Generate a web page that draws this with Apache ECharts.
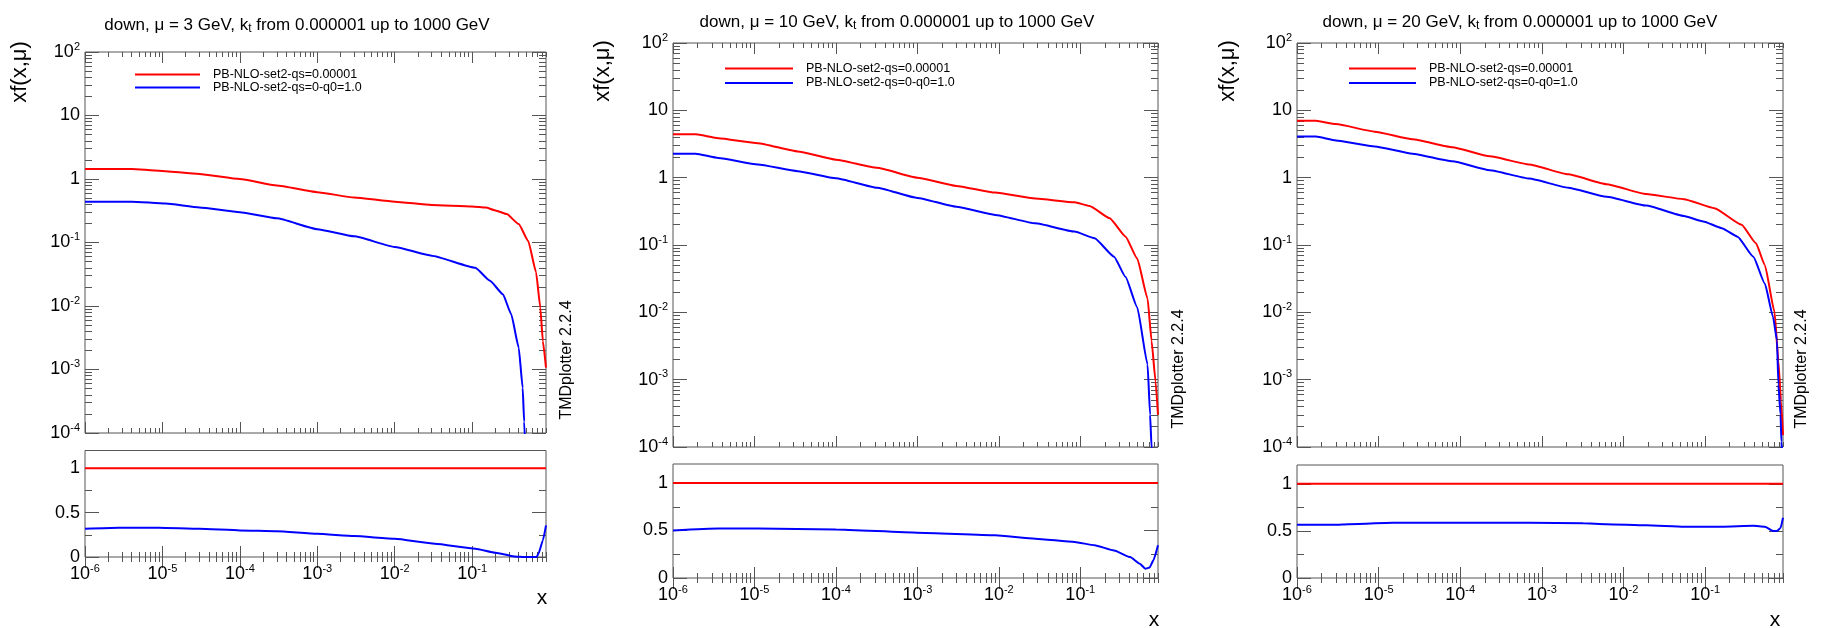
<!DOCTYPE html>
<html>
<head>
<meta charset="utf-8">
<script src="https://cdn.jsdelivr.net/npm/echarts@6/dist/echarts.min.js"></script>
<style>
  html, body { margin: 0; padding: 0; background: #fff; }
  #chart { width: 1824px; height: 628px; }
</style>
</head>
<body>
<div id="chart"></div>
<script>
// series names (same in every panel)
const RED_NAME = 'PB-NLO-set2-qs=0.00001';
const BLUE_NAME = 'PB-NLO-set2-qs=0-q0=1.0';

// scale mu of each panel (GeV)
const muValues = [3, 10, 20];

// tick labels
const xDecades = [1e-6, 1e-5, 1e-4, 1e-3, 1e-2, 1e-1];
const yDecades = [1.0000001e-4, 1e-3, 1e-2, 1e-1, 1, 10, 99.99999];
const ratioLabels = [0, 0.5, 1];
const ratioMinor = [0.25, 0.75];

// ---- panel 1 : mu = 3 GeV ----
const x1Red = [1e-6, 4e-6, 9e-6, 3e-5, 1e-4, 3e-4, 1e-3, 3e-3, 1e-2, 3e-2, 0.1, 0.15, 0.2, 0.28, 0.4, 0.53, 0.67, 0.76, 0.82, 0.9];
const y1Red = [1.44, 1.44, 1.35, 1.20, 1.00, 0.79, 0.62, 0.51, 0.44, 0.39, 0.37, 0.355, 0.32, 0.28, 0.195, 0.106, 0.034, 0.0094, 0.0028, 0.00107];
const x1Blue = [1e-6, 4e-6, 1.1e-5, 3e-5, 1e-4, 3e-4, 1e-3, 3e-3, 1e-2, 3e-2, 0.11, 0.17, 0.25, 0.32, 0.4, 0.45, 0.47, 0.49];
const y1Blue = [0.44, 0.44, 0.41, 0.357, 0.30, 0.24, 0.162, 0.125, 0.085, 0.062, 0.040, 0.025, 0.0153, 0.0074, 0.0022, 5.1e-4, 1.5e-4, 5e-5];
const x1Ratio = [1e-6, 2.7e-6, 9e-6, 3e-5, 1e-4, 3e-4, 1e-3, 3e-3, 1e-2, 3.3e-2, 0.11, 0.2, 0.35, 0.5, 0.68, 0.72, 0.82, 0.9];
const r1Blue = [0.318, 0.33, 0.33, 0.318, 0.30, 0.29, 0.262, 0.236, 0.206, 0.15, 0.094, 0.049, 0.007, 0, 0, 0.037, 0.187, 0.356];

// ---- panel 2 : mu = 10 GeV ----
const x2Red = [1e-6, 1.9e-6, 3.6e-6, 1.1e-5, 3.4e-5, 1e-4, 3.2e-4, 1e-3, 3e-3, 9e-3, 2.8e-2, 8.5e-2, 0.13, 0.23, 0.36, 0.5, 0.67, 0.75, 0.84, 0.9];
const y2Red = [4.4, 4.4, 3.85, 3.25, 2.45, 1.85, 1.40, 1.0, 0.755, 0.60, 0.49, 0.43, 0.38, 0.25, 0.133, 0.063, 0.016, 0.0038, 9.4e-4, 3e-4];
const x2Blue = [1e-6, 1.9e-6, 3.6e-6, 1.1e-5, 3.4e-5, 1e-4, 3.2e-4, 1e-3, 3e-3, 9e-3, 2.8e-2, 8.5e-2, 0.15, 0.26, 0.36, 0.5, 0.67, 0.72, 0.75, 0.78];
const y2Blue = [2.27, 2.27, 1.96, 1.57, 1.25, 0.98, 0.71, 0.5, 0.37, 0.28, 0.21, 0.158, 0.126, 0.067, 0.0335, 0.0119, 0.00168, 3e-4, 1e-4, 8e-5];
const x2Ratio = [1e-6, 3.6e-6, 1.1e-5, 1e-4, 1e-3, 9e-3, 2.8e-2, 8.5e-2, 0.15, 0.26, 0.41, 0.54, 0.63, 0.71, 0.79, 0.9];
const r2Blue = [0.50, 0.52, 0.52, 0.51, 0.477, 0.45, 0.414, 0.38, 0.344, 0.29, 0.22, 0.15, 0.098, 0.11, 0.186, 0.344];

// ---- panel 3 : mu = 20 GeV ----
const x3Red = [1e-6, 1.7e-6, 3e-6, 9e-6, 2.6e-5, 8e-5, 2.3e-4, 7e-4, 2.1e-3, 6.2e-3, 1.9e-2, 5.5e-2, 0.13, 0.28, 0.42, 0.54, 0.71, 0.79, 0.85, 0.9];
const y3Red = [6.98, 7.0, 6.24, 4.82, 3.72, 2.84, 2.08, 1.57, 1.12, 0.80, 0.57, 0.48, 0.352, 0.2, 0.106, 0.05, 0.01, 0.0019, 4.9e-4, 1.5e-4];
const x3Blue = [1e-6, 1.7e-6, 3e-6, 9e-6, 2.6e-5, 8e-5, 2.3e-4, 7e-4, 2.1e-3, 6.2e-3, 1.9e-2, 5.5e-2, 9.5e-2, 0.16, 0.25, 0.39, 0.54, 0.68, 0.76, 0.79, 0.84, 0.86, 0.88];
const y3Blue = [4.07, 4.07, 3.56, 2.91, 2.27, 1.75, 1.29, 0.97, 0.71, 0.52, 0.385, 0.27, 0.224, 0.178, 0.133, 0.067, 0.0266, 0.0085, 0.0038, 8.5e-4, 3e-4, 1.2e-4, 8e-5];
const x3Ratio = [1e-6, 3e-6, 4.2e-6, 1.5e-5, 8e-5, 7e-4, 3.2e-3, 6.2e-3, 1.9e-2, 5.5e-2, 0.16, 0.39, 0.54, 0.68, 0.76, 0.84, 0.9];
const r3Blue = [0.565, 0.565, 0.572, 0.586, 0.586, 0.586, 0.582, 0.572, 0.561, 0.544, 0.544, 0.554, 0.544, 0.50, 0.50, 0.53, 0.64];

// reference ratio (red / red)
const xRatioRef = [1e-6, 0.9];
const rRed = [1, 1];

const X_MAX = 0.9;
const FONT = '"Liberation Sans", Arial, Helvetica, sans-serif';
const FRAME = '#555';
const RED = '#ff0000';
const BLUE = '#0000ff';

// layout of the three panels (pixels)
const panels = [
  { left: 85,   width: 461, top: 52, topH: 381, low: 450.5, lowH: 106.5,
    titleX: 297, titleY: 25, yLabX: 20, yLabY: 72, xLabX: 542, xLabY: 598, tmdX: 567, tmdY: 360,
    legX: 130, legY: 63, legW: 65, legGap: 0 },
  { left: 673,  width: 485, top: 43, topH: 404, low: 464, lowH: 114,
    titleX: 897, titleY: 22, yLabX: 603, yLabY: 71, xLabX: 1154, xLabY: 620, tmdX: 1179, tmdY: 369,
    legX: 720, legY: 57, legW: 68, legGap: 1.5 },
  { left: 1297, width: 486, top: 43, topH: 404, low: 465, lowH: 113,
    titleX: 1520, titleY: 22, yLabX: 1228, yLabY: 71, xLabX: 1775, xLabY: 620, tmdX: 1802, tmdY: 369,
    legX: 1344, legY: 57, legW: 67, legGap: 1.5 }
];

const topData = [
  [x1Red, y1Red, x1Blue, y1Blue],
  [x2Red, y2Red, x2Blue, y2Blue],
  [x3Red, y3Red, x3Blue, y3Blue]
];
const ratioData = [
  [x1Ratio, r1Blue],
  [x2Ratio, r2Blue],
  [x3Ratio, r3Blue]
];

function pairs(xs, ys) {
  return xs.map((x, i) => [x, ys[i]]);
}

function minorTicks(lo, hi) {
  let out = [];
  for (let e = lo; e < hi; e++) {
    for (let k = 2; k <= 9; k++) out.push(k * Math.pow(10, e));
  }
  return out;
}

const xMinor = minorTicks(-6, 0);
const yMinor = minorTicks(-4, 2);

const RICH = {
  n: { fontSize: 18, fontFamily: FONT, color: '#000', lineHeight: 22 },
  e: { fontSize: 11, fontFamily: FONT, color: '#000', lineHeight: 12, verticalAlign: 'top' }
};

function powLabel(v, isY) {
  let e = Math.round(Math.log10(v));
  if (isY && e === 0) return '{n|1}';
  if (isY && e === 1) return '{n|10}';
  return '{n|10}{e|' + e + '}';
}

let grids = [], xAxes = [], yAxes = [], series = [], legends = [], texts = [];

function tickStyle(len, vals) {
  return { show: true, inside: true, length: len, customValues: vals, lineStyle: { color: FRAME, width: 1 } };
}

function addX(g, withLabels) {
  let base = { type: 'log', logBase: 10, gridIndex: g, min: 1e-6, max: X_MAX,
    axisLine: { show: false }, splitLine: { show: false } };
  xAxes.push(Object.assign({}, base, { position: 'bottom', axisTick: tickStyle(11, xDecades),
    axisLabel: withLabels ? { show: true, customValues: xDecades, margin: 6, rich: RICH,
      formatter: v => powLabel(v, false) } : { show: false } }));
  xAxes.push(Object.assign({}, base, { position: 'top', axisTick: tickStyle(11, xDecades), axisLabel: { show: false } }));
  xAxes.push(Object.assign({}, base, { position: 'bottom', axisTick: tickStyle(5, xMinor), axisLabel: { show: false } }));
  xAxes.push(Object.assign({}, base, { position: 'top', axisTick: tickStyle(5, xMinor), axisLabel: { show: false } }));
}

function addYLog(g) {
  let base = { type: 'log', logBase: 10, gridIndex: g, min: 1e-4, max: 100,
    axisLine: { show: false }, splitLine: { show: false } };
  yAxes.push(Object.assign({}, base, { position: 'left', axisTick: tickStyle(14, yDecades),
    axisLabel: { show: true, customValues: yDecades, margin: 5, rich: RICH, formatter: v => powLabel(v, true) } }));
  yAxes.push(Object.assign({}, base, { position: 'right', axisTick: tickStyle(14, yDecades), axisLabel: { show: false } }));
  yAxes.push(Object.assign({}, base, { position: 'left', axisTick: tickStyle(7, yMinor), axisLabel: { show: false } }));
  yAxes.push(Object.assign({}, base, { position: 'right', axisTick: tickStyle(7, yMinor), axisLabel: { show: false } }));
}

function addYRatio(g) {
  let base = { type: 'value', gridIndex: g, min: 0, max: 1.2,
    axisLine: { show: false }, splitLine: { show: false } };
  yAxes.push(Object.assign({}, base, { position: 'left', axisTick: tickStyle(14, ratioLabels),
    axisLabel: { show: true, customValues: ratioLabels, margin: 5, rich: RICH, formatter: v => '{n|' + v + '}' } }));
  yAxes.push(Object.assign({}, base, { position: 'right', axisTick: tickStyle(14, ratioLabels), axisLabel: { show: false } }));
  yAxes.push(Object.assign({}, base, { position: 'left', axisTick: tickStyle(7, ratioMinor), axisLabel: { show: false } }));
  yAxes.push(Object.assign({}, base, { position: 'right', axisTick: tickStyle(7, ratioMinor), axisLabel: { show: false } }));
}

function lineSeries(name, color, g, data) {
  return { type: 'line', name: name, xAxisIndex: 4 * g, yAxisIndex: 4 * g, data: data,
    symbol: 'none', smooth: 0.15, smoothMonotone: 'x', clip: true,
    lineStyle: { color: color, width: 2 },
    itemStyle: { color: color }, emphasis: { disabled: true }, silent: true };
}

panels.forEach((p, i) => {
  let gTop = 2 * i, gLow = 2 * i + 1;
  grids.push({ left: p.left, top: p.top, width: p.width, height: p.topH, show: true,
    borderColor: FRAME, borderWidth: 1, outerBoundsMode: 'none' });
  grids.push({ left: p.left, top: p.low, width: p.width, height: p.lowH, show: true,
    borderColor: FRAME, borderWidth: 1, outerBoundsMode: 'none' });

  addX(gTop, false); addYLog(gTop);
  addX(gLow, true); addYRatio(gLow);

  let d = topData[i];
  series.push(lineSeries(RED_NAME, RED, gTop, pairs(d[0], d[1])));
  series.push(lineSeries(BLUE_NAME, BLUE, gTop, pairs(d[2], d[3])));
  series.push(lineSeries(RED_NAME, RED, gLow, pairs(xRatioRef, rRed)));
  series.push(lineSeries(BLUE_NAME, BLUE, gLow, pairs(ratioData[i][0], ratioData[i][1])));

  legends.push({ left: p.legX, top: p.legY, orient: 'vertical', icon: 'rect',
    itemWidth: p.legW, itemHeight: 2, itemGap: p.legGap, selectedMode: false,
    data: [RED_NAME, BLUE_NAME],
    textStyle: { fontSize: 12.5, fontFamily: FONT, color: '#000', padding: [0, 0, 0, 8] } });

  // panel title with subscript t
  texts.push({ type: 'text', x: p.titleX, y: p.titleY, silent: true, style: {
    text: '{a|down, μ = ' + muValues[i] + ' GeV, k}{s|t}{a| from 0.000001 up to 1000 GeV}',
    align: 'center', verticalAlign: 'middle',
    rich: { a: { fontSize: 17, fontFamily: FONT, fill: '#000', lineHeight: 20 },
            s: { fontSize: 12, fontFamily: FONT, fill: '#000', lineHeight: 4, verticalAlign: 'bottom' } } } });
  texts.push({ type: 'text', x: p.yLabX, y: p.yLabY, rotation: Math.PI / 2, silent: true,
    style: { text: 'xf(x,μ)', font: '22px ' + FONT, fill: '#000', align: 'center', verticalAlign: 'middle' } });
  texts.push({ type: 'text', x: p.xLabX, y: p.xLabY, silent: true,
    style: { text: 'x', font: '21px ' + FONT, fill: '#000', align: 'center', verticalAlign: 'middle' } });
  texts.push({ type: 'text', x: p.tmdX, y: p.tmdY, rotation: Math.PI / 2, silent: true,
    style: { text: 'TMDplotter 2.2.4', font: '16px ' + FONT, fill: '#000', align: 'center', verticalAlign: 'middle' } });
});

let myChart = echarts.init(document.getElementById('chart'), null, { renderer: 'canvas' });
myChart.setOption({
  animation: false,
  backgroundColor: '#fff',
  grid: grids,
  xAxis: xAxes,
  yAxis: yAxes,
  legend: legends,
  series: series,
  graphic: { elements: texts }
});
</script>
</body>
</html>
